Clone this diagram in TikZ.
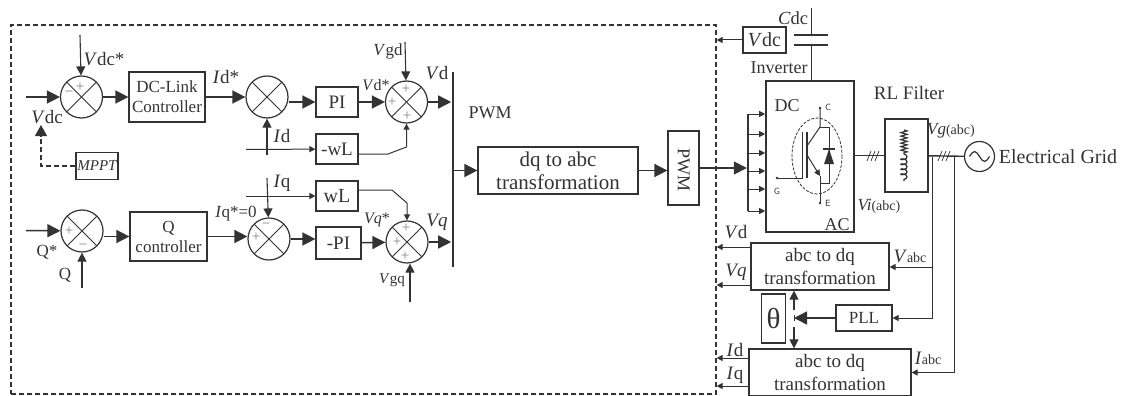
\documentclass[tikz,border=0pt]{standalone}
\usepackage{fontspec}
\setmainfont{Liberation Serif}
\usetikzlibrary{arrows.meta,decorations.pathmorphing}
\definecolor{ink}{gray}{0.2}
\newcommand{\sm}[1]{{\fontsize{14}{15}\selectfont #1}}

\begin{document}
\begin{tikzpicture}[x=1pt,y=-1pt,line width=1pt,draw=ink,text=ink,
  >={Triangle[length=13pt,width=13pt]},
  wire/.style={->,line width=1.5pt},
  small/.style={->,line width=1pt,>={Triangle[length=6pt,width=6pt]}},
  mid/.style={->,line width=1.1pt,>={Triangle[length=9pt,width=9pt]}},
  sum node/.style={circle,draw,line width=1.2pt,inner sep=0pt,minimum size=42pt,path picture={
    \draw[-,line width=1pt] (path picture bounding box.north west) -- (path picture bounding box.south east);
    \draw[-,line width=1pt] (path picture bounding box.north east) -- (path picture bounding box.south west);}},
  box/.style={draw,line width=1.2pt,inner sep=0pt,align=center,font=\fontsize{17}{20}\selectfont},
  txt/.style={inner sep=0pt,font=\fontsize{19}{21}\selectfont},
  lab/.style={inner sep=0pt,font=\fontsize{17}{19}\selectfont},
  sign/.style={inner sep=0pt,text=black!50,font=\fontsize{15}{15}\selectfont},
  tiny/.style={inner sep=0pt,font=\sffamily\fontsize{9}{10}\selectfont},
  bus/.style={fill=ink,draw=none,minimum width=2.6pt,inner sep=0pt}]
  \useasboundingbox (0,0) rectangle (1122,396);

  \node[draw,dashed,line width=1.2pt,dash pattern=on 5pt off 3pt,minimum width=705pt,minimum height=369pt,inner sep=0pt] (ctrl) at (363.5,209.5) {};

  % d axis
  \node[sum node] (sum1) at (81.5,97) {};
  \node[box,minimum width=76pt,minimum height=50pt] (dclink) at (167,97) {DC-Link\\Controller};
  \node[sum node] (sum2) at (267,97) {};
  \node[box,minimum width=42pt,minimum height=30pt,font=\fontsize{19}{20}\selectfont] (pi) at (337,102) {PI};
  \node[box,minimum width=42pt,minimum height=30pt,font=\fontsize{19}{20}\selectfont] (mwl) at (337,149) {-wL};
  \node[sum node] (sum3) at (406.5,102) {};
  \node[box,minimum width=42pt,minimum height=27pt,font=\fontsize{15}{16}\selectfont\itshape] (mppt) at (97,166) {MPPT};

  % q axis
  \node[sum node] (sum5) at (82,231) {};
  \node[box,minimum width=77pt,minimum height=49pt] (qbox) at (168.5,236.5) {Q\\controller};
  \node[sum node] (sum4) at (269,239) {};
  \node[box,minimum width=42pt,minimum height=30pt,font=\fontsize{20}{20}\selectfont] (wl) at (337,196) {wL};
  \node[box,minimum width=45pt,minimum height=32pt,font=\fontsize{19}{20}\selectfont] (mpi) at (338.5,243) {-PI};
  \node[sum node] (sum6) at (407,242) {};

  \node[bus,minimum height=195pt] (busa) at (453,169.5) {};
  \node[box,minimum width=160pt,minimum height=47pt,font=\fontsize{21}{23}\selectfont] (dq) at (558,170.5) {dq to abc\\transformation};
  \node[box,minimum width=31pt,minimum height=74pt] (pwm) at (683.5,168) {};
  \node[inner sep=0pt,rotate=-90,font=\fontsize{18}{18}\selectfont] (pwmtxt) at (683.5,170) {PWM};
  \node[bus,minimum height=97pt,minimum width=1.4pt] (busb) at (748,162.5) {};

  % power side
  \node[box,minimum width=88pt,minimum height=151pt,line width=1.6pt] (inv) at (810,156.5) {};
  \node[box,minimum width=43pt,minimum height=26pt,font=\fontsize{20}{20}\selectfont] (vdc) at (764.5,40) {\textit{V}dc};
  \node[box,minimum width=43pt,minimum height=73pt,line width=1.6pt] (rl) at (906.5,155.5) {};
  \node[circle,draw,line width=1.2pt,inner sep=0pt,minimum size=30pt,path picture={
    \draw[-] ([xshift=-10pt]path picture bounding box.center) sin ++(5pt,5pt) cos ++(5pt,-5pt) sin ++(5pt,-5pt) cos ++(5pt,5pt);}] (grid) at (979.5,156.5) {};

  % feedback side
  \node[box,minimum width=138pt,minimum height=47pt,font=\fontsize{19}{23}\selectfont] (abca) at (820,266.5) {abc to dq\\transformation};
  \node[box,minimum width=162pt,minimum height=47pt,font=\fontsize{19}{23}\selectfont] (abcb) at (830,372.5) {abc to dq\\transformation};
  \node[box,minimum width=24pt,minimum height=49pt,font=\fontsize{29}{30}\selectfont] (theta) at (773.5,318.5) {θ};
  \node[box,minimum width=56pt,minimum height=26pt] (pll) at (864,318) {PLL};

  \coordinate (vdcin) at (26,97);
  \coordinate (vdcstar) at (80,35);
  \coordinate (idin) at (246,149.5);
  \coordinate (idup) at (267,155);
  \coordinate (iqin) at (246,196);
  \coordinate (iqdown) at (267,178);
  \coordinate (vgdin) at (405,42);
  \coordinate (qstar) at (26,230.5);
  \coordinate (qin) at (82,288);
  \coordinate (vgqin) at (410,302);
  \coordinate (mpptup) at (41,125);
  \coordinate (mwlbend) at (388,154);
  \coordinate (mwlup) at (406.5,147);
  \coordinate (wlbend) at (392,190);
  \coordinate (wldown) at (407,203);
  \coordinate (tapa) at (932,156.5);
  \coordinate (tapb) at (954,156.5);
  \coordinate (tapc) at (932,267);
  \coordinate (junc) at (794,318);
  \coordinate (juncup) at (794,310);
  \coordinate (juncdown) at (794,327);
  \coordinate (capa) at (811,8);
  \coordinate (capb) at (811,35);
  \coordinate (capc) at (811,45);

  \path[wire]
    (vdcin) edge (sum1)
    (sum1) edge (dclink)
    (dclink) edge (sum2)
    (sum2.east |- pi) edge (pi)
    (pi) edge (sum3)
    (sum3) edge (busa.west |- sum3)
    (qstar) edge (sum5)
    (sum5.east |- qbox) edge (qbox)
    (qbox) edge (sum4.west |- qbox)
    (sum4) edge (mpi.west |- sum4)
    (mpi) edge (sum6)
    (sum6) edge (busa.west |- sum6)
    (busa.center |- dq) edge (dq)
    (dq) edge (pwm.west |- dq)
    (pwm) edge (busb.west |- pwm)
    (pll) edge (junc)
  ;
  \path[mid]
    (vdcstar) edge (sum1)
    (idup) edge (sum2)
    (iqdown) edge (sum4)
    (vgdin) edge (sum3)
    (vgqin) edge (sum6.south -| vgqin)
    (qin) edge (sum5)
    (juncup) edge (junc |- abca.south)
    (juncdown) edge (junc |- abcb.north)
  ;
  \path[small]
    (idin) edge (mwl)
    (iqin) edge (wl)
    (vdc) edge (ctrl.east |- vdc)
    (tapc) edge (abca.east |- tapc)
    (abca.west |- 0,247) edge (ctrl.east |- 0,247)
    (abca.west |- 0,285) edge (ctrl.east |- 0,285)
    (abcb.west |- 0,358) edge (ctrl.east |- 0,358)
    (abcb.west |- 0,386) edge (ctrl.east |- 0,386)
  ;
  \draw[mid,>={Triangle[length=11pt,width=12pt]},dashed,dash pattern=on 5pt off 3pt] (mppt) -| (mpptup);
  \draw[small] (mwl.east |- mwlbend) -- (mwlbend) -- (mwlup) -- (sum3);
  \draw[small] (wl.east |- wlbend) -- (wlbend) -- (wldown) -- (sum6);
  \draw[small] (tapa) |- (pll);
  \draw[small] (tapb) |- (abcb);
  \draw (inv.east |- rl) -- (rl);
  \draw[line width=1.4pt] (rl) -- (grid);
  \draw (junc) ++(0,-3) -- ++(0,6);
  \foreach \y in {114,134,153,171,189,211}
    \draw[small] (busb.center |- 0,\y) -- (inv.west |- 0,\y);
  \foreach \sx in {867,871,875,938,942,946}
    \draw[line width=.7pt] (\sx,161) -- (\sx+4,151);

  % capacitor
  \draw (capa) -- (capb);
  \draw (capc) -- (inv.north -| capc);
  \draw[line width=1.3pt] (794,35) -- (828,35) (794,45) -- (828,45);

  % switch
  \draw[dashed,line width=.8pt,dash pattern=on 3pt off 1.5pt] (817,156) ellipse (25 and 38);
  \draw (777,178) -- (802,178) -- (802,132);
  \draw[line width=1.6pt] (807,132) -- (807,178);
  \draw (820,108) -- (820,127) -- (807,146);
  \draw[small] (807,155) -- (820,176);
  \draw (820,176) -- (820,203);
  \draw (820,127) -- (829,127) -- (829,183) -- (820,183);
  \fill[ink] (829,149) -- (824,164) -- (834,164) -- cycle;
  \draw[line width=1.3pt] (823,149) -- (835,149);
  \fill[ink] (777,178) circle (1.3) (820,108) circle (1.3) (820,203) circle (1.3);

  % filter
  \draw[line width=1.2pt,decorate,decoration={zigzag,segment length=3.5pt,amplitude=3pt}] (904,130) -- (904,154);
  \draw[line width=1.2pt,decorate,decoration={coil,aspect=0.5,segment length=5pt,amplitude=3pt}] (904,154) -- (904,181);

  % signs
  \node[sign] (s1a) at (80,87) {+};
  \node[sign] (s1b) at (69,94) {−};
  \node[sign] (s3a) at (406,89) {+};
  \node[sign] (s3b) at (392,102) {+};
  \node[sign] (s3c) at (407,116) {+};
  \node[sign] (s5a) at (69,231) {+};
  \node[sign] (s5b) at (83,247) {−};
  \node[sign] (s4a) at (266,226) {−};
  \node[sign] (s4b) at (256,237) {+};
  \node[sign] (s6a) at (406,228) {+};
  \node[sign] (s6b) at (397,242) {+};
  \node[sign] (s6c) at (405,256) {+};

  % labels
  \node[txt] (lvdcs) at (104,59) {\textit{V}dc*};
  \node[txt] (lvdc) at (47,117) {\textit{V}dc};
  \node[txt] (lids) at (226,77) {\textit{I}d*};
  \node[txt] (lid) at (282,136) {\textit{I}d};
  \node[txt] (liq) at (282,183) {\textit{I}q};
  \node[lab] (liqs) at (236,214) {\textit{I}q*=0};
  \node[lab] (lqs) at (47,252) {Q*};
  \node[lab] (lq) at (65,275) {Q};
  \node[lab,font=\fontsize{16}{17}\selectfont] (lvds) at (376,85) {\textit{V}d*};
  \node[lab] (lvgd) at (388,51) {\textit{V}gd};
  \node[txt] (lvd) at (437,73) {\textit{V}d};
  \node[lab,font=\fontsize{16}{17}\selectfont] (lvqs) at (377,220) {\textit{Vq}*};
  \node[txt] (lvq) at (437,222) {\textit{Vq}};
  \node[lab,font=\fontsize{15}{16}\selectfont] (lvgq) at (392,280) {\textit{V}gq};
  \node[lab,font=\fontsize{18}{19}\selectfont] (lpwm) at (490,113) {PWM};
  \node[lab,font=\fontsize{18.5}{19}\selectfont] (lcdc) at (793,18) {\textit{C}dc};
  \node[lab,font=\fontsize{18}{19}\selectfont] (linv) at (779,68) {Inverter};
  \node[lab,font=\fontsize{19}{20}\selectfont] (lrl) at (909,93) {RL Filter};
  \node[lab,font=\fontsize{18}{19}\selectfont] (ldc) at (787,106) {DC};
  \node[lab,font=\fontsize{18}{19}\selectfont] (lac) at (837,225) {AC};
  \node[tiny] (lg) at (777,191) {G};
  \node[tiny] (lc) at (828,107) {C};
  \node[tiny] (le) at (828,203) {E};
  \node[lab] (lvi) at (879,206) {\textit{Vi}\sm{(abc)}};
  \node[lab] (lvg) at (951,131) {\textit{Vg}\sm{(abc)}};
  \node[txt,font=\fontsize{20}{21}\selectfont] (lgrid) at (1058,157) {Electrical Grid};
  \node[txt] (lvd2) at (736,232) {\textit{V}d};
  \node[txt] (lvq2) at (736,272) {\textit{Vq}};
  \node[txt] (lid2) at (735,350) {\textit{I}d};
  \node[txt] (liq2) at (735,375) {\textit{I}q};
  \node[txt] (lvabc) at (910,256) {\textit{V}\sm{abc}};
  \node[txt] (liabc) at (928,358) {\textit{I}\sm{abc}};
\end{tikzpicture}
\end{document}
